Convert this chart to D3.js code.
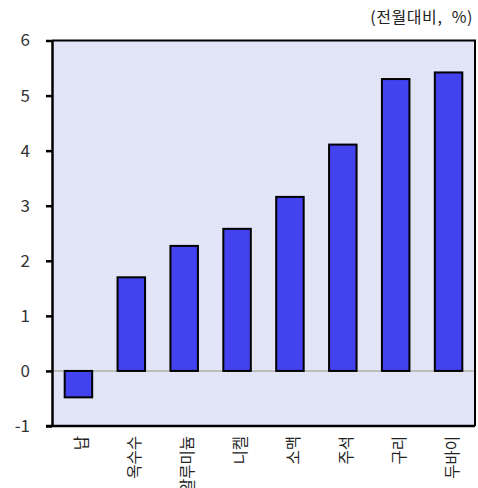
<!DOCTYPE html>
<html>
<head>
<meta charset="utf-8">
<script src="https://cdn.jsdelivr.net/npm/d3@7"></script>
<style>
  html, body { margin: 0; padding: 0; background: #ffffff; }
  svg { display: block; }
  text { font-family: "Noto Sans CJK KR", "Noto Sans", sans-serif; }
</style>
</head>
<body>
<div id="chart"></div>
<script>
// Commodity price change, month over month (%)
const categories = ["납", "옥수수", "알루미늄", "니켈", "소맥", "주석", "구리", "두바이"];
const values = [-0.48, 1.70, 2.27, 2.58, 3.16, 4.11, 5.30, 5.42];
const yTicks = [-1, 0, 1, 2, 3, 4, 5, 6];
const unitLabel = "(전월대비, %)";

const W = 478, H = 488;
const margin = { top: 40.5, right: 3, bottom: 62, left: 52 };

const svg = d3.select("#chart").append("svg")
  .attr("width", W).attr("height", H);

const x = d3.scaleBand()
  .domain(categories)
  .range([margin.left, W - margin.right])
  .paddingInner(0.48)
  .paddingOuter(0.24);

const y = d3.scaleLinear()
  .domain([-1, 6])
  .range([H - margin.bottom, margin.top]);

// faint dotted fill for the plot area
const defs = svg.append("defs");
const pat = defs.append("pattern")
  .attr("id", "dots").attr("width", 4).attr("height", 4)
  .attr("patternUnits", "userSpaceOnUse");
pat.append("rect").attr("width", 4).attr("height", 4).attr("fill", "#e1e4f7");
pat.append("rect").attr("x", 1).attr("y", 1).attr("width", 1).attr("height", 1)
  .attr("fill", "#ffffff").attr("opacity", 0.45);

svg.append("rect")
  .attr("x", margin.left).attr("y", margin.top)
  .attr("width", W - margin.right - margin.left)
  .attr("height", y(-1) - margin.top)
  .attr("fill", "url(#dots)");

// zero line
svg.append("line")
  .attr("x1", margin.left).attr("x2", W - margin.right)
  .attr("y1", y(0)).attr("y2", y(0))
  .attr("stroke", "#bdbdbd").attr("stroke-width", 2);

// bars
svg.append("g").selectAll("rect")
  .data(values)
  .join("rect")
  .attr("x", (d, i) => x(categories[i]))
  .attr("width", x.bandwidth())
  .attr("y", d => y(Math.max(0, d)))
  .attr("height", d => Math.abs(y(d) - y(0)))
  .attr("fill", "#4242ee")
  .attr("stroke", "#000")
  .attr("stroke-width", 2);

// frame: top and right sides
svg.append("path")
  .attr("d", `M${margin.left},${margin.top}H${W - margin.right}V${y(-1)}`)
  .attr("fill", "none").attr("stroke", "#000").attr("stroke-width", 2);

// y axis (plain hyphen for negatives)
const yAxis = svg.append("g")
  .attr("transform", `translate(${margin.left},0)`)
  .call(d3.axisLeft(y).tickValues(yTicks).tickFormat(d => String(d))
    .tickSize(6).tickPadding(16).tickSizeOuter(0));
yAxis.select(".domain").attr("stroke", "#000").attr("stroke-width", 2.5);
yAxis.selectAll(".tick line").attr("stroke", "#000").attr("stroke-width", 2.5);
yAxis.selectAll(".tick text")
  .attr("fill", "#333").style("font-size", "17px")
  .style("font-family", '"Noto Sans CJK KR", "Noto Sans", sans-serif');

// x axis
const xAxis = svg.append("g")
  .attr("transform", `translate(0,${y(-1)})`)
  .call(d3.axisBottom(x).tickSize(0).tickSizeOuter(0));
xAxis.select(".domain").attr("stroke", "#000").attr("stroke-width", 2.5)
  .attr("d", `M${margin.left - 6},0H${W - margin.right}`);
xAxis.selectAll(".tick text")
  .attr("fill", "#222")
  .style("font-size", "15.5px")
  .style("font-family", '"Noto Sans CJK KR", "Noto Sans", sans-serif')
  .attr("text-anchor", "end")
  .attr("dy", null)
  .attr("y", 0)
  .attr("transform", "translate(2,10) rotate(-90)")
  .attr("dominant-baseline", "central");

// unit label
svg.append("text")
  .attr("x", W - 5).attr("y", 23)
  .attr("text-anchor", "end")
  .attr("fill", "#222")
  .style("font-size", "16px")
  .style("word-spacing", "5px")
  .style("letter-spacing", "0.6px")
  .text(unitLabel);
</script>
</body>
</html>
